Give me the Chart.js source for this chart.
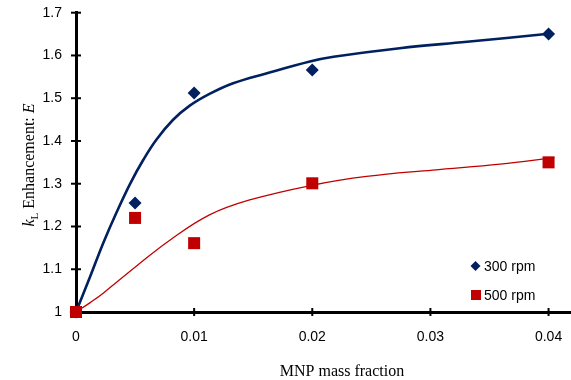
<!DOCTYPE html>
<html>
<head>
<meta charset="utf-8">
<script src="https://cdn.jsdelivr.net/npm/chart.js@4/dist/chart.umd.min.js"></script>
<style>
  html, body { margin: 0; padding: 0; background: #fff; overflow: hidden; }
  #wrap { width: 571px; height: 380px; }
</style>
</head>
<body>
<div id="wrap"><canvas id="chart"></canvas></div>
<script>
// measured points
const massFraction = [0, 0.005, 0.01, 0.02, 0.04];
const e300 = [1.00, 1.255, 1.512, 1.566, 1.650];
const e500 = [1.00, 1.220, 1.161, 1.301, 1.350];

// fitted curves
const fit300X = [0, 0.0012, 0.0023, 0.0034, 0.0046, 0.0057, 0.0068, 0.0082, 0.0096, 0.0113, 0.0133, 0.0161, 0.0198, 0.0218, 0.0274, 0.0331, 0.0398];
const fit300Y = [1, 1.083, 1.161, 1.231, 1.301, 1.356, 1.403, 1.449, 1.482, 1.510, 1.535, 1.558, 1.586, 1.597, 1.617, 1.632, 1.650];
const fit500X = [0, 0.0012, 0.0023, 0.0051, 0.0080, 0.0113, 0.0147, 0.0201, 0.0246, 0.0302, 0.0359, 0.0405];
const fit500Y = [1, 1.022, 1.044, 1.107, 1.169, 1.227, 1.262, 1.297, 1.317, 1.332, 1.346, 1.361];

const seriesNames = ['300 rpm', '500 rpm'];
const xTicks = [0, 0.01, 0.02, 0.03, 0.04];
const xTickLabels = ['0', '0.01', '0.02', '0.03', '0.04'];
const yTicks = [1, 1.1, 1.2, 1.3, 1.4, 1.5, 1.6, 1.7];
const yTickLabels = ['1', '1.1', '1.2', '1.3', '1.4', '1.5', '1.6', '1.7'];

const NAVY = '#002060';
const RED = '#c00000';
const SANS = '"Liberation Sans", Arial, sans-serif';
const SERIF = '"Liberation Serif", "Times New Roman", serif';

function toXY(xs, ys) {
    return xs.map((x, i) => ({ x: x, y: ys[i] }));
}

// ticks that cross the axis lines, drawn under the markers
const axisTicks = {
    id: 'axisTicks',
    beforeDatasetsDraw(chart) {
        const ctx = chart.ctx;
        const xs = chart.scales.x, ys = chart.scales.y;
        const x0 = chart.chartArea.left, y0 = chart.chartArea.bottom;
        ctx.save();
        ctx.strokeStyle = '#000';
        ctx.lineWidth = 2;
        xTicks.forEach(v => {
            const px = xs.getPixelForValue(v);
            ctx.beginPath();
            ctx.moveTo(px, y0 - 4);
            ctx.lineTo(px, y0 + 4);
            ctx.stroke();
        });
        yTicks.forEach(v => {
            const py = ys.getPixelForValue(v);
            ctx.beginPath();
            ctx.moveTo(x0 - 5, py);
            ctx.lineTo(x0 + 5, py);
            ctx.stroke();
        });
        ctx.restore();
    }
};

// axis titles and the small legend inside the plot
const extras = {
    id: 'extras',
    afterDraw(chart) {
        const ctx = chart.ctx;
        ctx.save();
        ctx.fillStyle = '#000';
        ctx.textBaseline = 'alphabetic';

        // x title
        ctx.font = '16px ' + SERIF;
        ctx.textAlign = 'center';
        ctx.fillText('MNP mass fraction', 342, 376);

        // y title: k_L Enhancement: E
        const parts = [
            { t: 'k', f: 'italic 16px ' + SERIF, dy: 0 },
            { t: 'L', f: '11px ' + SERIF, dy: 4 },
            { t: ' Enhancement: ', f: '16px ' + SERIF, dy: 0 },
            { t: 'E', f: 'italic 16px ' + SERIF, dy: 0 }
        ];
        let total = 0;
        parts.forEach(p => { ctx.font = p.f; p.w = ctx.measureText(p.t).width; total += p.w; });
        ctx.translate(34, 165);
        ctx.rotate(-Math.PI / 2);
        ctx.textAlign = 'left';
        let cx = -total / 2;
        parts.forEach(p => {
            ctx.font = p.f;
            ctx.fillText(p.t, cx, p.dy);
            cx += p.w;
        });
        ctx.setTransform(1, 0, 0, 1, 0, 0);

        // legend
        ctx.font = '14px ' + SANS;
        ctx.textAlign = 'left';
        ctx.textBaseline = 'middle';
        ctx.fillStyle = NAVY;
        ctx.beginPath();
        ctx.moveTo(475.5, 261);
        ctx.lineTo(480.5, 266);
        ctx.lineTo(475.5, 271);
        ctx.lineTo(470.5, 266);
        ctx.closePath();
        ctx.fill();
        ctx.fillStyle = RED;
        ctx.fillRect(471, 290, 10, 10);
        ctx.fillStyle = '#000';
        ctx.fillText(seriesNames[0], 484, 267);
        ctx.fillText(seriesNames[1], 484, 296);
        ctx.restore();
    }
};

new Chart(document.getElementById('chart'), {
    type: 'scatter',
    data: {
        datasets: [
            {
                label: seriesNames[1],
                data: toXY(massFraction, e500),
                pointStyle: 'rect',
                pointRadius: 8.5,
                backgroundColor: RED,
                borderColor: RED,
                borderWidth: 0,
                clip: false,
                order: 1
            },
            {
                label: seriesNames[0],
                data: toXY(massFraction, e300),
                pointStyle: 'rectRot',
                pointRadius: 6.5,
                backgroundColor: NAVY,
                borderColor: NAVY,
                borderWidth: 0,
                clip: false,
                order: 2
            },
            {
                label: 'fit 300',
                data: toXY(fit300X, fit300Y),
                showLine: true,
                pointRadius: 0,
                borderColor: NAVY,
                borderWidth: 2.6,
                tension: 0.4,
                clip: false,
                order: 3
            },
            {
                label: 'fit 500',
                data: toXY(fit500X, fit500Y),
                showLine: true,
                pointRadius: 0,
                borderColor: RED,
                borderWidth: 1.3,
                tension: 0.4,
                clip: false,
                order: 4
            }
        ]
    },
    options: {
        responsive: true,
        maintainAspectRatio: false,
        animation: false,
        layout: { autoPadding: false, padding: { top: 12.7, right: 0, left: 0, bottom: 0 } },
        plugins: {
            legend: { display: false },
            tooltip: { enabled: false }
        },
        scales: {
            x: {
                type: 'linear',
                min: 0,
                max: 0.0419,
                afterBuildTicks: s => { s.ticks = xTicks.map(v => ({ value: v })); },
                afterFit: s => { s.height = 68; s.paddingLeft = 0; s.paddingRight = 0; },
                border: { display: true, color: '#000', width: 3 },
                grid: { drawOnChartArea: false, drawTicks: false },
                ticks: {
                    padding: 17,
                    color: '#000',
                    font: { family: SANS, size: 14 },
                    maxRotation: 0,
                    callback: (v, i) => xTickLabels[i]
                }
            },
            y: {
                min: 1,
                max: 1.7,
                afterBuildTicks: s => { s.ticks = yTicks.map(v => ({ value: v })); },
                afterFit: s => { s.width = 76; s.paddingTop = 0; s.paddingBottom = 0; },
                border: { display: true, color: '#000', width: 3 },
                grid: { drawOnChartArea: false, drawTicks: false },
                ticks: {
                    padding: 14,
                    color: '#000',
                    font: { family: SANS, size: 14 },
                    callback: (v, i) => yTickLabels[i]
                }
            }
        }
    },
    plugins: [axisTicks, extras]
});
</script>
</body>
</html>
